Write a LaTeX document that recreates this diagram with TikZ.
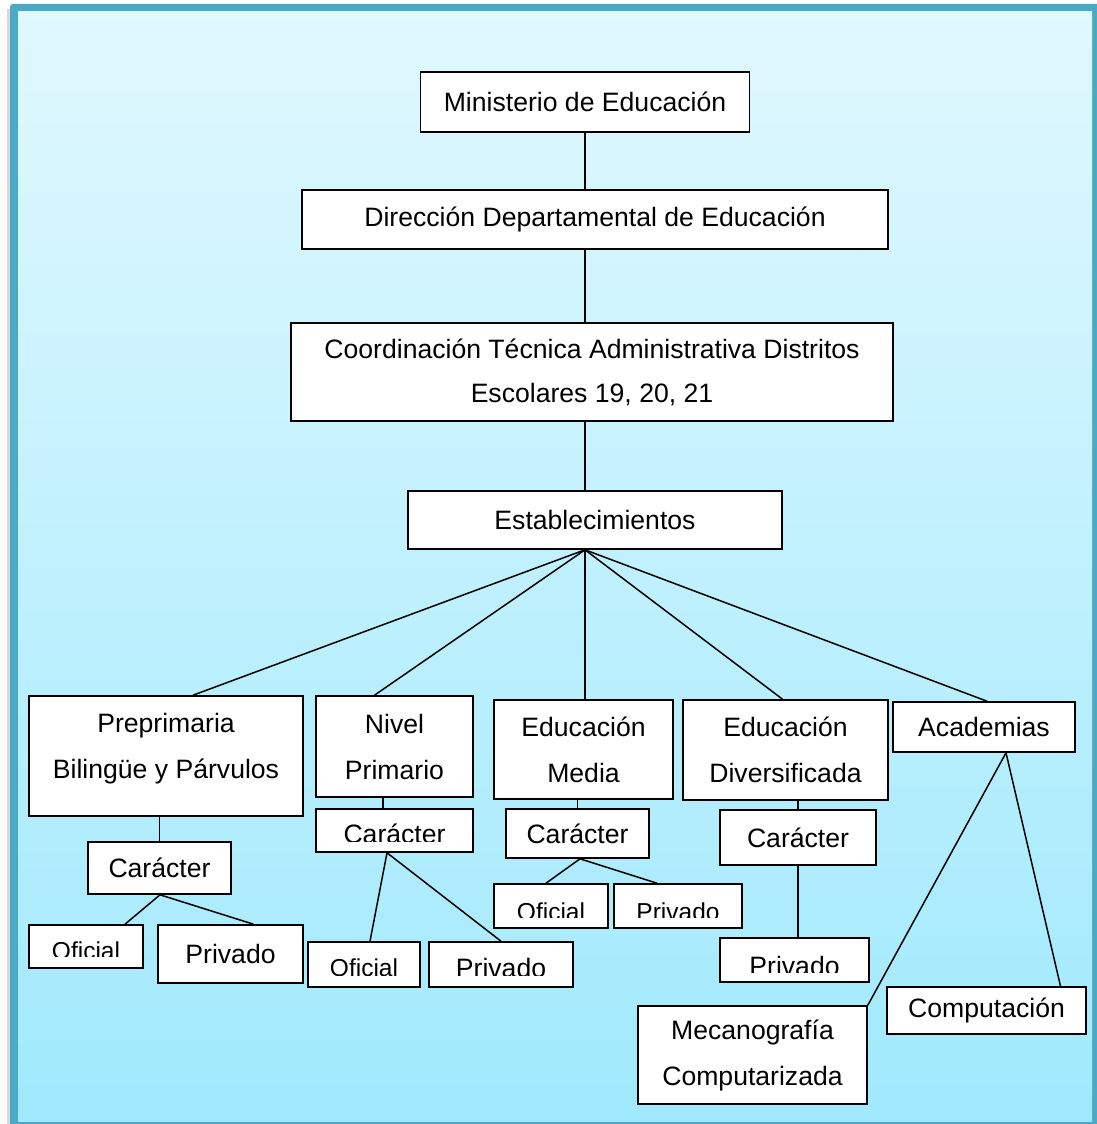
\documentclass[tikz,border=0pt]{standalone}
\usepackage{fontspec}
\setmainfont{Liberation Sans}
\usetikzlibrary{positioning}
\definecolor{framecol}{RGB}{74,170,197}
\definecolor{skytop}{RGB}{224,248,254}
\definecolor{skybot}{RGB}{160,233,253}
\tikzset{
    orgbox/.style={
        draw,
        fill=white,
        line width=1.6pt,
        inner sep=0pt,
        align=center,
        font=\fontsize{26.6}{46}\selectfont
    },
    cuttxt/.style={inner sep=0pt, anchor=base, font=\fontsize{26.6}{46}\selectfont},
    smalltxt/.style={cuttxt, font=\fontsize{24.5}{46}\selectfont},
    link/.style={line width=1.5pt}
}
% text of a box whose lower part is cut off
\newcommand{\cuttext}[5]{%
    \begin{scope}
        \clip (#1.north west) rectangle ([yshift=#4]#1.south east);
        \node[#2] (#1-t) at ([yshift=#3]#1.center) {#5};
    \end{scope}}

\begin{document}
\begin{tikzpicture}[x=1pt, y=-1pt]
    \useasboundingbox (0,0) rectangle (1097,1124);
    % Frame
    \fill[black!15] (7,9) rectangle (11,1124);
    \fill[framecol, rounded corners=3] (10,4) rectangle (1105,1132);
    \shade[top color=skytop, bottom color=skybot] (18,12) rectangle (1092,1121);

    % Top of the chart
    \node[orgbox, minimum width=329, minimum height=60] (min) at (585,102) {Ministerio de Educación};
    \node[orgbox, minimum width=586, minimum height=59] (dir) at (595,219.5) {Dirección Departamental de Educación};
    \node[orgbox, minimum width=602, minimum height=98, font=\fontsize{26.6}{44}\selectfont] (coo) at (592,372) {Coordinación Técnica Administrativa Distritos\\Escolares 19, 20, 21};
    \node[orgbox, minimum width=374, minimum height=58] (est) at (595,520) {Establecimientos};

    % Levels
    \node[orgbox, minimum width=274, minimum height=120, text depth=19.5pt] (pre) at (166,756) {Preprimaria\\Bilingüe y Párvulos};
    \node[orgbox, minimum width=157, minimum height=101] (np) at (394.5,746.5) {Nivel\\Primario};
    \node[orgbox, minimum width=179, minimum height=99] (med) at (583.5,749.5) {Educación\\Media};
    \node[orgbox, minimum width=205, minimum height=100] (div) at (785.5,750) {Educación\\Diversificada};
    \node[orgbox, minimum width=182, minimum height=50] (aca) at (984,727) {Academias};

    % Caracter boxes
    \node[orgbox, minimum width=143, minimum height=52] (car1) at (159.5,868) {Carácter};
    \node[orgbox, minimum width=157, minimum height=43] (car2) at (394.5,830.5) {};
    \cuttext{car2}{cuttxt}{-13}{11}{Carácter}
    \node[orgbox, minimum width=143, minimum height=49] (car3) at (577.5,833.5) {Carácter};
    \node[orgbox, minimum width=156, minimum height=55] (car4) at (798,837.5) {Carácter};

    % Oficial / Privado
    \node[orgbox, minimum width=114, minimum height=43] (of1) at (86,946.5) {};
    \cuttext{of1}{smalltxt}{-12.5}{12}{Oficial}
    \node[orgbox, minimum width=145, minimum height=58] (pv1) at (230.5,954) {Privado};
    \node[orgbox, minimum width=112, minimum height=45] (of2) at (364,964.5) {};
    \cuttext{of2}{smalltxt}{-11.5}{12}{Oficial}
    \node[orgbox, minimum width=144, minimum height=45] (pv2) at (501,964.5) {};
    \cuttext{pv2}{cuttxt}{-13}{12}{Privado}
    \node[orgbox, minimum width=114, minimum height=44] (of3) at (551,906) {};
    \cuttext{of3}{smalltxt}{-14}{11}{Oficial}
    \node[orgbox, minimum width=128, minimum height=44] (pv3) at (678,906) {};
    \cuttext{pv3}{smalltxt}{-14}{11}{Privado}
    \node[orgbox, minimum width=149, minimum height=44] (pv4) at (794.5,960) {};
    \cuttext{pv4}{cuttxt}{-15.5}{10}{Privado}

    % Academias
    \node[orgbox, minimum width=229, minimum height=98] (mec) at (752.5,1055) {Mecanografía\\Computarizada};
    \node[orgbox, minimum width=199, minimum height=47] (com) at (986.5,1010.5) {Computación};

    % Spine
    \draw[link] (min.south) -- (min.south |- dir.north);
    \draw[link] (min.south |- dir.south) -- (min.south |- coo.north);
    \draw[link] (min.south |- coo.south) -- (min.south |- est.north);
    \coordinate (hub) at (min.south |- est.south);

    % Edges
    \draw[link] (hub) -- ([xshift=27]pre.north);
    \draw[link] (hub) -- ([xshift=-20]np.north);
    \draw[link] (hub) -- ([xshift=1.5]med.north);
    \draw[link] (hub) -- ([xshift=-3]div.north);
    \draw[link] (hub) -- ([xshift=3]aca.north);
    \draw[link] (car1.north |- pre.south) -- (car1.north);
    \draw[link] ([xshift=-11.5]np.south) -- ([xshift=-11.5]car2.north);
    \draw[link] (car3.north |- med.south) -- (car3.north);
    \draw[link] (car4.north |- div.south) -- (car4.north);
    \draw[link] ([xshift=0.5]car1.south) -- ([xshift=39]of1.north);
    \draw[link] ([xshift=0.5]car1.south) -- ([xshift=23]pv1.north);
    \draw[link] ([xshift=-7.5]car2.south) -- ([xshift=6]of2.north);
    \draw[link] ([xshift=-7.5]car2.south) -- (pv2.north);
    \draw[link] ([xshift=2.5]car3.south) -- ([xshift=-5]of3.north);
    \draw[link] ([xshift=2.5]car3.south) -- ([xshift=-21]pv3.north);
    \draw[link] (car4.south) -- (car4.south |- pv4.north);
    \draw[link] ([xshift=22]aca.south) -- (mec.north east);
    \draw[link] ([xshift=22]aca.south) -- ([xshift=74]com.north);
\end{tikzpicture}
\end{document}
